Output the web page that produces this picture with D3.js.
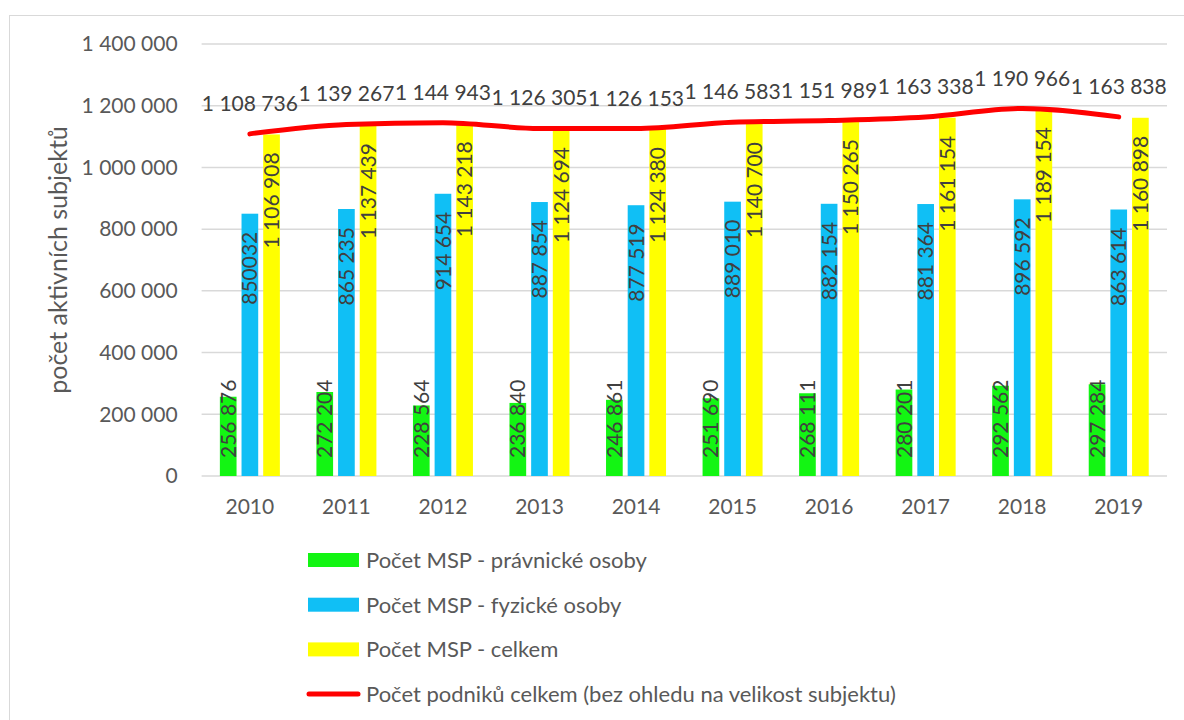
<!DOCTYPE html>
<html>
<head>
<meta charset="utf-8">
<script src="https://cdn.jsdelivr.net/npm/d3@7"></script>
<style>
  body { margin: 0; background: #fff; }
  svg text { font-family: Lato, "Open Sans", sans-serif; }
</style>
</head>
<body>
<div id="chart"></div>
<script>
// Data
var years = ["2010", "2011", "2012", "2013", "2014", "2015", "2016", "2017", "2018", "2019"];
var pravnicke = [256876, 272204, 228564, 236840, 246861, 251690, 268111, 280201, 292562, 297284];
var fyzicke = [850032, 865235, 914654, 887854, 877519, 889010, 882154, 881364, 896592, 863614];
var celkemMSP = [1106908, 1137439, 1143218, 1124694, 1124380, 1140700, 1150265, 1161154, 1189154, 1160898];
var podnikyCelkem = [1108736, 1139267, 1144943, 1126305, 1126153, 1146583, 1151989, 1163338, 1190966, 1163838];
var yTicks = [0, 200000, 400000, 600000, 800000, 1000000, 1200000, 1400000];

var seriesNames = ["Počet MSP - právnické osoby", "Počet MSP - fyzické osoby", "Počet MSP - celkem"];
var seriesColors = ["#13f513", "#10bff5", "#ffff00"];
var lineName = "Počet podniků celkem (bez ohledu na velikost subjektu)";
var lineColor = "#ff0000";

var svgWidth = 1184;
var svgHeight = 720;
var margin = { top: 44, left: 201.6 };
var chartWidth = 965.4;
var chartHeight = 432;

// format with space as thousands separator
var fmt = function(v) { return d3.format(",")(v).replace(/,/g, " "); };

var svg = d3.select("#chart").append("svg")
  .attr("width", svgWidth)
  .attr("height", svgHeight);

// chart border
svg.append("rect")
  .attr("x", 9.5).attr("y", 15.5)
  .attr("width", 1200).attr("height", 720)
  .attr("fill", "none")
  .attr("stroke", "#d9d9d9");

var g = svg.append("g")
  .attr("transform", `translate(${margin.left}, ${margin.top})`);

var x0 = d3.scaleBand().domain(years).range([0, chartWidth]);
var x1 = d3.scaleBand().domain([0, 1, 2]).range([0, 60]).paddingInner(0.23);
var y = d3.scaleLinear().domain([0, 1400000]).range([chartHeight, 0]);

// gridlines
g.append("g").selectAll("line")
  .data(yTicks)
  .enter().append("line")
  .attr("x1", 0).attr("x2", chartWidth)
  .attr("y1", d => y(d)).attr("y2", d => y(d))
  .attr("stroke", "#d9d9d9")
  .attr("stroke-width", 1.5);

// y axis labels
var yAxis = d3.axisLeft(y).tickValues(yTicks).tickFormat(fmt).tickSize(0).tickPadding(24);
var yAxisG = g.append("g").call(yAxis);
yAxisG.select(".domain").remove();
yAxisG.selectAll("text")
  .attr("font-size", 21)
  .attr("fill", "#595959")
  .style("font-family", "Lato, sans-serif");

// x axis labels
var xAxis = d3.axisBottom(x0).tickSize(0).tickPadding(23);
var xAxisG = g.append("g")
  .attr("transform", `translate(0, ${chartHeight})`)
  .call(xAxis);
xAxisG.select(".domain").remove();
xAxisG.selectAll("text")
  .attr("font-size", 21)
  .attr("fill", "#595959")
  .style("font-family", "Lato, sans-serif");

// y axis title
g.append("text")
  .attr("transform", "rotate(-90)")
  .attr("x", -chartHeight / 2)
  .attr("y", -135)
  .attr("text-anchor", "middle")
  .attr("font-size", 25)
  .attr("fill", "#595959")
  .text("počet aktivních subjektů");

var allSeries = [pravnicke, fyzicke, celkemMSP];
var barData = [];
years.forEach(function(yr, i) {
  allSeries.forEach(function(s, k) {
    barData.push({ year: yr, k: k, value: s[i] });
  });
});

var barX = d => x0(d.year) + x0.bandwidth() / 2 - 30 + x1(d.k);

g.append("g").selectAll("rect")
  .data(barData)
  .enter().append("rect")
  .attr("x", barX)
  .attr("y", d => y(d.value))
  .attr("width", x1.bandwidth())
  .attr("height", d => chartHeight - y(d.value))
  .attr("fill", d => seriesColors[d.k]);

// bar labels (rotated)
g.append("g").selectAll("text")
  .data(barData)
  .enter().append("text")
  .attr("transform", function(d) {
    var cx = barX(d) + x1.bandwidth() / 2;
    var ty = d.k === 0 ? y(0) - 18 : y(d.value) + 18;
    return `translate(${cx}, ${ty}) rotate(-90)`;
  })
  .attr("text-anchor", d => d.k === 0 ? "start" : "end")
  .attr("dy", "0.36em")
  .attr("font-size", 21)
  .attr("fill", "#404040")
  .text(d => d.year === "2010" && d.k === 1 ? String(d.value) : fmt(d.value));

// line series
var lineX = (d, i) => x0(years[i]) + x0.bandwidth() / 2;
var line = d3.line()
  .x(lineX)
  .y(d => y(d))
  .curve(d3.curveMonotoneX);

g.append("path")
  .datum(podnikyCelkem)
  .attr("d", line)
  .attr("fill", "none")
  .attr("stroke", lineColor)
  .attr("stroke-width", 5)
  .attr("stroke-linecap", "round");

g.append("g").selectAll("text")
  .data(podnikyCelkem)
  .enter().append("text")
  .attr("x", lineX)
  .attr("y", d => y(d) - 23)
  .attr("text-anchor", "middle")
  .attr("font-size", 21)
  .attr("fill", "#404040")
  .text(fmt);

// legend
var legend = svg.append("g").attr("transform", "translate(308, 560)");
var legendRows = seriesNames.concat([lineName]);
legendRows.forEach(function(name, i) {
  var row = legend.append("g").attr("transform", `translate(0, ${i * 44.7})`);
  if (i < 3) {
    row.append("rect")
      .attr("x", 0).attr("y", -7)
      .attr("width", 51).attr("height", 14)
      .attr("fill", seriesColors[i]);
  } else {
    row.append("line")
      .attr("x1", 1).attr("x2", 50)
      .attr("y1", 0).attr("y2", 0)
      .attr("stroke", lineColor)
      .attr("stroke-width", 5)
      .attr("stroke-linecap", "round");
  }
  row.append("text")
    .attr("x", 58)
    .attr("dy", "0.36em")
    .attr("font-size", 22)
    .attr("fill", "#595959")
    .text(name);
});
</script>
</body>
</html>
